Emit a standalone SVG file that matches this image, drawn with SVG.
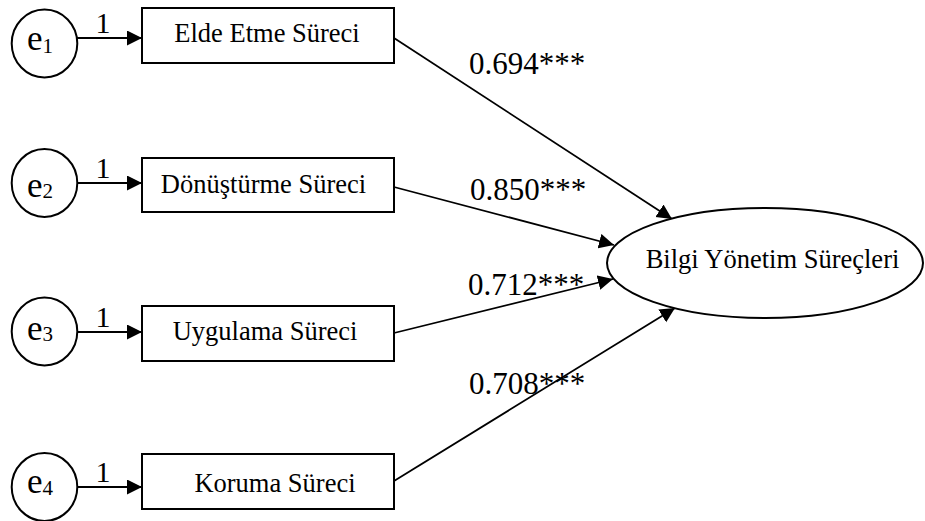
<svg xmlns="http://www.w3.org/2000/svg" width="925" height="521" viewBox="0 0 925 521">
  <style>
    .shape { fill: #ffffff; stroke: #000000; stroke-width: 2; }
    .edge { fill: none; stroke: #000000; stroke-width: 1.8; marker-end: url(#arrow); }
    .lbl { font-family: "Liberation Serif", "Times New Roman", serif; fill: #000000; }
    .box { font-size: 26.5px; text-anchor: middle; }
    .coef { font-size: 31px; }
    .one { font-size: 30px; text-anchor: middle; }
    .err { font-size: 35px; }
    .sub { font-size: 21px; }
  </style>
  <defs>
    <marker id="arrow" markerUnits="userSpaceOnUse" markerWidth="16" markerHeight="16" refX="15" refY="7.5" orient="auto">
      <path d="M0,0 L15,7.5 L0,15 Z" fill="#000000"/>
    </marker>
  </defs>

  <!-- connectors -->
  <g id="connectors">
    <line class="edge" x1="77" y1="38" x2="142" y2="38"/>
    <line class="edge" x1="77" y1="183" x2="142" y2="183"/>
    <line class="edge" x1="77" y1="332" x2="142" y2="332"/>
    <line class="edge" x1="77" y1="487" x2="142" y2="487"/>
    <line class="edge" x1="394" y1="38" x2="672" y2="219"/>
    <line class="edge" x1="394" y1="187" x2="614" y2="245"/>
    <line class="edge" x1="394" y1="333" x2="613" y2="279"/>
    <line class="edge" x1="394" y1="481" x2="675" y2="308"/>
    <text class="lbl one" x="103" y="33">1</text>
    <text class="lbl one" x="103" y="178">1</text>
    <text class="lbl one" x="103" y="327">1</text>
    <text class="lbl one" x="103" y="482">1</text>
    <text class="lbl coef" x="469" y="74">0.694***</text>
    <text class="lbl coef" x="470" y="200">0.850***</text>
    <text class="lbl coef" x="468" y="295">0.712***</text>
    <text class="lbl coef" x="469" y="394">0.708***</text>
  </g>

  <!-- error terms -->
  <g id="e1">
    <ellipse class="shape" cx="44.5" cy="43.5" rx="32.8" ry="34"/>
    <text class="lbl err" x="27" y="50">e<tspan class="sub" dy="3">1</tspan></text>
  </g>
  <g id="e2">
    <ellipse class="shape" cx="44.5" cy="183" rx="32.8" ry="34"/>
    <text class="lbl err" x="27" y="196.5">e<tspan class="sub" dy="1.5">2</tspan></text>
  </g>
  <g id="e3">
    <ellipse class="shape" cx="44.5" cy="331.5" rx="32.8" ry="34"/>
    <text class="lbl err" x="27" y="340">e<tspan class="sub" dy="1">3</tspan></text>
  </g>
  <g id="e4">
    <ellipse class="shape" cx="44.5" cy="487" rx="32.8" ry="34"/>
    <text class="lbl err" x="27" y="493">e<tspan class="sub" dy="2">4</tspan></text>
  </g>

  <!-- observed variables -->
  <g id="elde-etme">
    <rect class="shape" x="142" y="8" width="252" height="55"/>
    <text class="lbl box" x="267" y="41.5">Elde Etme Süreci</text>
  </g>
  <g id="donusturme">
    <rect class="shape" x="142" y="158" width="252" height="54"/>
    <text class="lbl box" x="263.5" y="193">Dönüştürme Süreci</text>
  </g>
  <g id="uygulama">
    <rect class="shape" x="142" y="306" width="252" height="55"/>
    <text class="lbl box" x="265" y="340">Uygulama Süreci</text>
  </g>
  <g id="koruma">
    <rect class="shape" x="142" y="454" width="252" height="55"/>
    <text class="lbl box" x="275" y="491.5">Koruma Süreci</text>
  </g>

  <!-- latent variable -->
  <g id="bilgi-yonetim">
    <ellipse class="shape" cx="765" cy="263" rx="158" ry="55"/>
    <text class="lbl box" x="772.5" y="267.5">Bilgi Yönetim Süreçleri</text>
  </g>
</svg>
